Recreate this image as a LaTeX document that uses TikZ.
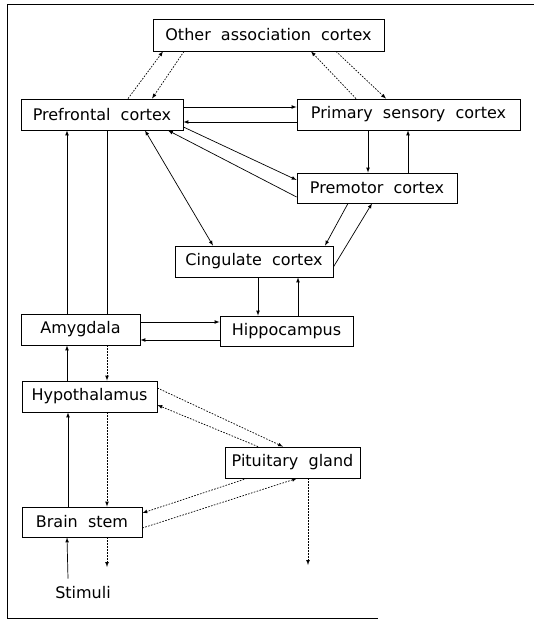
\documentclass[tikz,border=0pt]{standalone}
\usepackage{fontspec}
\setmainfont{DejaVu Sans}
\begin{document}
\begin{tikzpicture}[
    x=1pt, y=-1pt,
    area/.style={
        draw=black, rectangle, line width=0.8pt,
        inner sep=0pt, font=\fontsize{16}{19}\selectfont,
        text=black
    },
    arrow/.style={draw, -latex, line width=0.7pt},
    dotarrow/.style={draw, -latex, line width=0.7pt, dash pattern=on 1.6pt off 1.4pt},
    thinline/.style={draw, line width=0.45pt},
    frame/.style={draw, line width=0.8pt}
]
\useasboundingbox (0,0) rectangle (534,620);

% ===== Frame =====
\draw[frame] (534,4) -- (7,4) -- (7,618) -- (378,618);

% ===== Cortex =====
\node[area, minimum width=231, minimum height=32] (other) at (268.5,35)  {Other\ \ association\ \ cortex};
\node[area, minimum width=162, minimum height=31] (pref)  at (102,114.5) {Prefrontal\ \ cortex};
\node[area, minimum width=223, minimum height=31] (sens)  at (408.5,114.5) {Primary\ \ sensory\ \ cortex};
\node[area, minimum width=160, minimum height=30] (prem)  at (377,188)   {Premotor\ \ cortex};
\node[area, minimum width=158, minimum height=31] (cing)  at (254,261.5) {Cingulate\ \ cortex};

% ===== Limbic system =====
\node[area, minimum width=119, minimum height=31] (amyg)  at (80.5,329.5) {Amygdala};
\node[area, minimum width=133, minimum height=30] (hippo) at (286.5,331)  {Hippocampus};
\node[area, minimum width=135, minimum height=31] (hypo)  at (89.5,396.5) {Hypothalamus};
\node[area, minimum width=135, minimum height=31] (pit)   at (292.5,462.5) {Pituitary\ \ gland};
\node[area, minimum width=120, minimum height=30] (stem)  at (82,522)     {Brain\ \ stem};

% ===== Inputs and outputs =====
\node[font=\fontsize{16}{19}\selectfont, inner sep=0pt] (stim) at (83,593) {Stimuli};
\coordinate (stemout) at (107,567);
\coordinate (pitout) at (308,565);

% Other association cortex
\draw[dotarrow] ([xshift=26]pref.north) -- ([xshift=-105.5]other.south);
\draw[dotarrow] ([xshift=-84.5]other.south) -- ([xshift=50]pref.north);
\draw[dotarrow] ([xshift=-52.5]sens.north) -- ([xshift=42.5]other.south);
\draw[dotarrow] ([xshift=67.5]other.south) -- ([xshift=-22.5]sens.north);

% Prefrontal cortex
\draw[arrow] ([yshift=7.5]pref.east) -- ([yshift=7.5]sens.west);
\draw[arrow] ([yshift=-7.5]sens.west) -- ([yshift=-7.5]pref.east);
\draw[arrow] ([yshift=-12.5]pref.east) -- ([yshift=8]prem.west);
\draw[arrow] ([yshift=-9]prem.west) -- ([xshift=66]pref.south);
\draw[arrow, latex-latex] ([xshift=43]pref.south) -- ([xshift=-41]cing.north);

% Sensory, premotor, cingulate
\draw[arrow] ([xshift=-40.5]sens.south) -- ([xshift=-40.5]sens.south |- prem.north);
\draw[arrow] ([xshift=31]prem.north) -- ([xshift=31]prem.north |- sens.south);
\draw[arrow] ([xshift=-29]prem.south) -- ([xshift=71]cing.north);
\draw[arrow] ([yshift=-5.5]cing.east) -- ([xshift=-5]prem.south);
\draw[arrow] ([xshift=4]cing.south) -- ([xshift=4]cing.south |- hippo.north);
\draw[arrow] ([xshift=11.5]hippo.north) -- ([xshift=11.5]hippo.north |- cing.south);

% Amygdala and hippocampus
\draw[arrow] ([yshift=7.5]amyg.east) -- ([yshift=7.5]amyg.east -| hippo.west);
\draw[arrow] ([yshift=-10.5]amyg.east -| hippo.west) -- ([yshift=-10.5]amyg.east);
\draw[arrow] ([xshift=-13.5]amyg.north) -- ([xshift=-13.5]amyg.north |- pref.south);
\draw[thinline] ([xshift=5]pref.south) -- ([xshift=5]pref.south |- amyg.north);
\draw[dotarrow] ([xshift=26.5]amyg.south) -- ([xshift=26.5]amyg.south |- hypo.north);

% Hypothalamus, pituitary, brain stem
\draw[arrow] ([xshift=-22.5]hypo.north) -- ([xshift=-22.5]hypo.north |- amyg.south);
\draw[dotarrow] ([xshift=17.5]hypo.south) -- ([xshift=17.5]hypo.south |- stem.north);
\draw[arrow] ([xshift=-14]stem.north) -- ([xshift=-14]stem.north |- hypo.south);
\draw[dotarrow] ([yshift=8.5]hypo.east) -- ([xshift=-9.5]pit.north);
\draw[dotarrow] ([xshift=-34.5]pit.north) -- ([yshift=-8.5]hypo.east);
\draw[dotarrow] ([xshift=-45.5]pit.south) -- ([yshift=9]stem.east);
\draw[dotarrow] ([yshift=-6]stem.east) -- ([xshift=4.5]pit.south);
\draw[arrow] ([xshift=-15,yshift=8]stim.north) -- ([xshift=-15]stem.south);
\draw[dotarrow] ([xshift=25]stem.south) -- (stemout);
\draw[dotarrow] ([xshift=15.5]pit.south) -- (pitout);

\end{tikzpicture}
\end{document}
